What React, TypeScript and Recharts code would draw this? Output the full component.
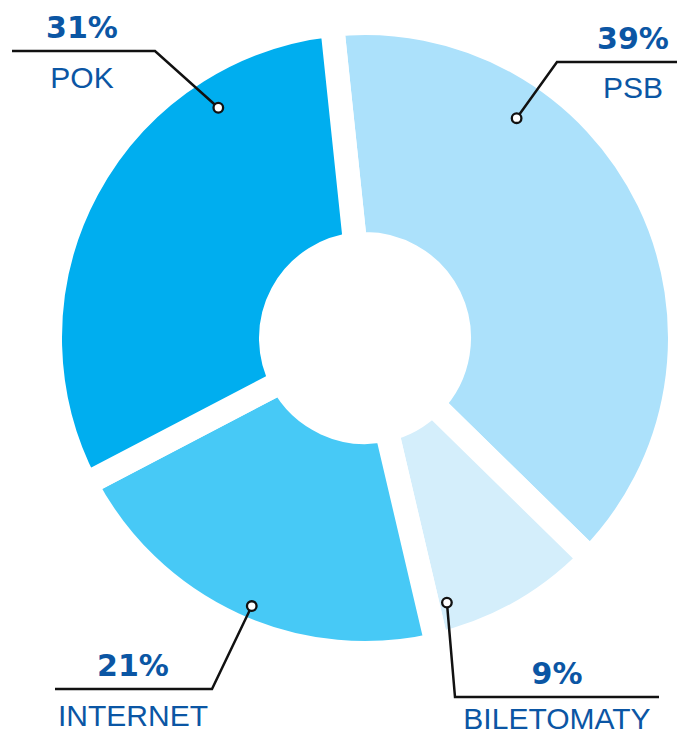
import React from 'react';
import { PieChart, Pie, Cell } from 'recharts';

const categories = ['PSB', 'BILETOMATY', 'INTERNET', 'POK'];
const shares = [39, 9, 21, 31];
const percentLabels = ['39%', '9%', '21%', '31%'];
const colors = ['#ace1fb', '#d4eefb', '#47c9f6', '#00aeef'];

const data = categories.map((name, i) => ({ name, value: shares[i], pct: percentLabels[i] }));

// callout layout per slice: marker polar position, elbow, end of the horizontal rule, text centre
const callouts = [
  { angle: 55.4, r: 267, elbowX: 557, elbowY: 62, endX: 700, textX: 633, nameDy: 36 },
  { angle: -72.8, r: 277, elbowX: 455, elbowY: 697, endX: 659, textX: 557, nameDy: 32 },
  { angle: -112.9, r: 291, elbowX: 212, elbowY: 689, endX: 55, textX: 133, nameDy: 37 },
  { angle: 122.5, r: 273, elbowX: 155, elbowY: 51, endX: 12, textX: 82, nameDy: 37 },
];

const TEXT_BLUE = '#0b56a4';

const renderLabel = (props: any) => {
  const { cx, cy, index, payload } = props;
  const c = callouts[index];
  const rad = (c.angle * Math.PI) / 180;
  const mx = cx + c.r * Math.cos(rad);
  const my = cy - c.r * Math.sin(rad);
  const name = payload?.name ?? categories[index];
  const pct = payload?.pct ?? percentLabels[index];
  return (
    <g key={`lbl-${index}`}>
      <polyline
        points={`${mx},${my} ${c.elbowX},${c.elbowY} ${c.endX},${c.elbowY}`}
        fill="none"
        stroke="#111"
        strokeWidth={2.5}
      />
      <circle cx={mx} cy={my} r={4.8} fill="#fff" stroke="#111" strokeWidth={2.3} />
      <text
        x={c.textX}
        y={c.elbowY - 13}
        textAnchor="middle"
        fill={TEXT_BLUE}
        fontFamily="'DejaVu Sans', sans-serif"
        fontWeight={700}
        fontSize={30}
      >
        {pct}
      </text>
      <text
        x={c.textX}
        y={c.elbowY + c.nameDy}
        textAnchor="middle"
        fill={TEXT_BLUE}
        fontFamily="'Liberation Sans', Arial, sans-serif"
        fontSize={30}
      >
        {name}
      </text>
    </g>
  );
};

export default function App() {
  return (
    <div style={{ position: 'absolute', left: 0, top: 0, width: 677, height: 735, background: '#fff' }}>
      <PieChart width={677} height={735} margin={{ top: 0, right: 0, bottom: 0, left: 0 }}>
        <Pie
          data={data}
          dataKey="value"
          nameKey="name"
          cx={365}
          cy={338}
          innerRadius={94}
          outerRadius={315}
          startAngle={96}
          endAngle={-264}
          label={renderLabel}
          labelLine={false}
          isAnimationActive={false}
        >
          {data.map((d, i) => (
            <Cell key={d.name} fill={colors[i]} stroke="#fff" strokeWidth={24} />
          ))}
        </Pie>
      </PieChart>
    </div>
  );
}
